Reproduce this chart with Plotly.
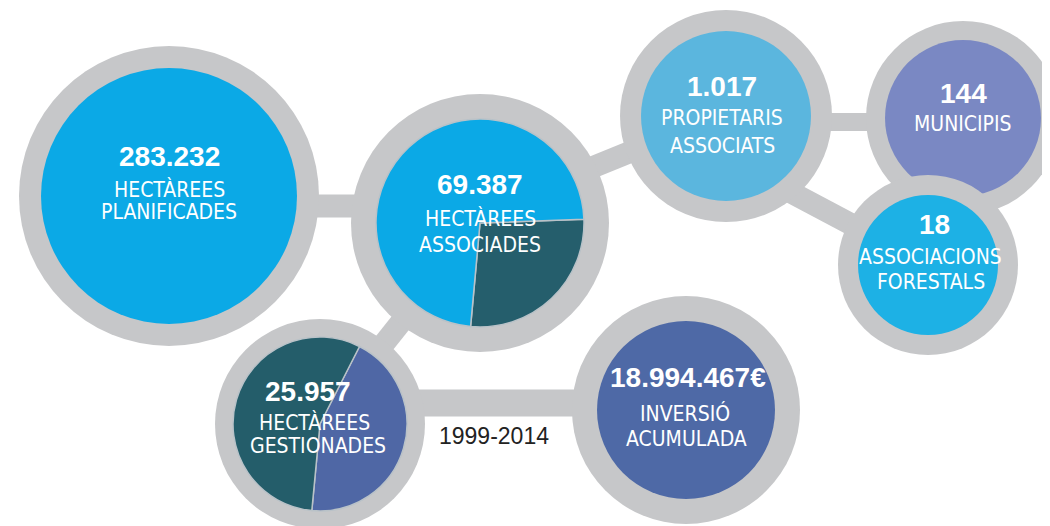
import plotly.graph_objects as go

W, H = 1050, 526

# values shown in the bubbles
figures = ["283.232", "69.387", "25.957", "18.994.467€", "1.017", "144", "18"]
captions = [
    ["HECTÀREES", "PLANIFICADES"],
    ["HECTÀREES", "ASSOCIADES"],
    ["HECTÀREES", "GESTIONADES"],
    ["INVERSIÓ", "ACUMULADA"],
    ["PROPIETARIS", "ASSOCIATS"],
    ["MUNICIPIS"],
    ["ASSOCIACIONS", "FORESTALS"],
]
period = "1999-2014"

# the two split bubbles (share of circle, %)
associades_split = [27, 73]    # dark part, light part
gestionades_split = [44, 56]   # blue part, dark part

# --- layout (pixels, y down) ---
# centre x, centre y, inner radius, ring radius
bubbles = [
    (161, 188, 128, 150),
    (472, 215, 104, 129),
    (312, 416, 87, 105),
    (678, 402, 89, 114),
    (718, 108, 85, 106),
    (955, 110, 78, 97),
    (920, 257, 70, 90),
]
fills = ["#0ba9e6", None, None, "#4e69a6", "#5bb6de", "#7a88c3", "#1db1e5"]
# number x/y, caption x/y pairs (annotation anchor, a few px above the glyph centre)
text_pos = [
    ((161, 148), [(161, 181), (161, 204)]),
    ((472, 176), [(472, 210), (472, 237)]),
    ((300, 383), [(306, 414), (310, 438)]),
    ((680, 369), [(677, 405), (678, 431)]),
    ((714, 78), [(714, 110), (714, 138)]),
    ((955, 85), [(955, 116)]),
    ((926, 216), [(922, 249), (923, 274)]),
]
# connector bars: x0, y0, x1, y1, width
links = [
    (161, 198, 472, 198, 23),
    (472, 205, 718, 105, 22),
    (718, 114, 955, 114, 18),
    (718, 150, 920, 257, 22),
    (472, 215, 312, 416, 22),
    (312, 395, 678, 395, 27),
]

RING = "#c6c7c9"
NUM_FONT = "Liberation Sans, Arial, sans-serif"
CAP_FONT = "Liberation Sans Narrow, Arial Narrow, DejaVu Sans Condensed, sans-serif"

fig = go.Figure()
# invisible trace so the pixel-sized cartesian axes exist for the shapes
fig.add_trace(go.Scatter(x=[0, W], y=[0, H], mode="markers", marker=dict(opacity=0),
                         hoverinfo="skip", showlegend=False))

shapes = []
for x0, y0, x1, y1, w in links:
    shapes.append(dict(type="line", x0=x0, y0=y0, x1=x1, y1=y1, layer="below",
                       line=dict(color=RING, width=w)))
for (cx, cy, ri, ro), col in zip(bubbles, fills):
    shapes.append(dict(type="circle", x0=cx - ro, x1=cx + ro, y0=cy - ro, y1=cy + ro,
                       layer="below", fillcolor=RING, line=dict(width=0)))
    if col:
        shapes.append(dict(type="circle", x0=cx - ri, x1=cx + ri, y0=cy - ri, y1=cy + ri,
                           layer="below", fillcolor=col, line=dict(width=0)))


def pie_domain(cx, cy, r):
    return dict(x=[(cx - r) / W, (cx + r) / W], y=[1 - (cy + r) / H, 1 - (cy - r) / H])


cx, cy, ri, ro = bubbles[1]
fig.add_trace(go.Pie(values=associades_split, labels=["a", "b"], sort=False,
                     direction="clockwise", rotation=88, textinfo="none",
                     hoverinfo="skip", showlegend=False, domain=pie_domain(cx, cy, ri),
                     marker=dict(colors=["#255e6c", "#0ba9e6"],
                                 line=dict(color="#b9c2c8", width=1.5))))
cx, cy, ri, ro = bubbles[2]
fig.add_trace(go.Pie(values=gestionades_split, labels=["c", "d"], sort=False,
                     direction="clockwise", rotation=27, textinfo="none",
                     hoverinfo="skip", showlegend=False, domain=pie_domain(cx, cy, ri),
                     marker=dict(colors=["#4f67a5", "#245d6a"],
                                 line=dict(color="#b9c2c8", width=1.5))))

annotations = []
for num, caps, (npos, cpos) in zip(figures, captions, text_pos):
    annotations.append(dict(x=npos[0], y=npos[1], text="<b>%s</b>" % num, showarrow=False,
                            xanchor="center", yanchor="middle",
                            font=dict(family=NUM_FONT, size=28, color="white")))
    for c, (x, y) in zip(caps, cpos):
        annotations.append(dict(x=x, y=y, text=c, showarrow=False,
                                xanchor="center", yanchor="middle",
                                font=dict(family=CAP_FONT, size=21, color="white")))
annotations.append(dict(x=486, y=428, text=period, showarrow=False,
                        xanchor="center", yanchor="middle",
                        font=dict(family="Liberation Sans, Arial, sans-serif", size=23,
                                  color="#222222")))

fig.update_layout(
    width=W, height=H,
    margin=dict(l=0, r=0, t=0, b=0),
    paper_bgcolor="white", plot_bgcolor="white",
    xaxis=dict(range=[0, W], visible=False, fixedrange=True),
    yaxis=dict(range=[H, 0], visible=False, fixedrange=True),
    shapes=shapes,
    annotations=annotations,
)

fig.write_html("out.html")
